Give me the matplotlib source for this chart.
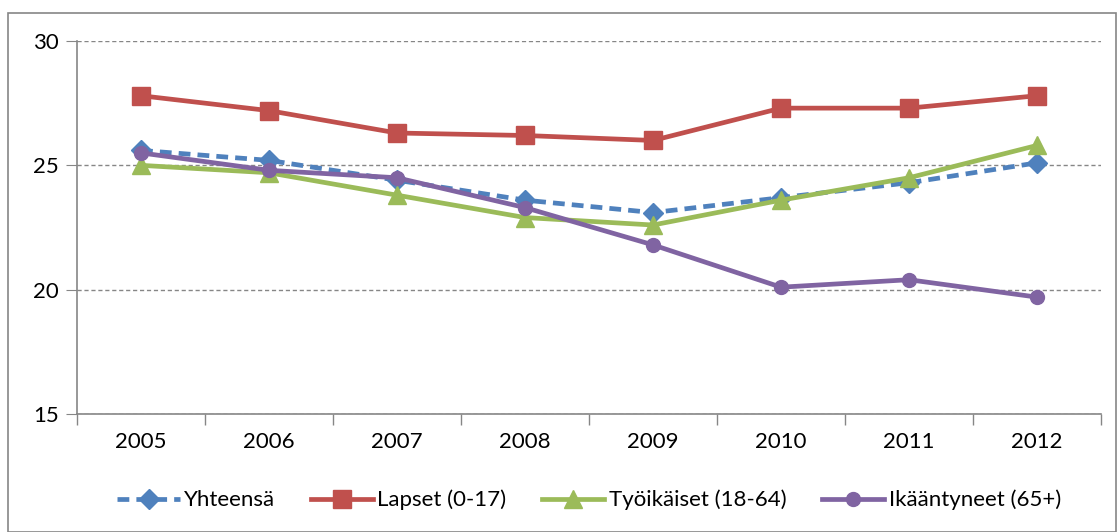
import numpy as np
import matplotlib
matplotlib.use("Agg")
import matplotlib.pyplot as plt
from matplotlib.patches import Rectangle

plt.rcParams['font.family'] = ['Lato', 'DejaVu Sans']

years = ['2005', '2006', '2007', '2008', '2009', '2010', '2011', '2012']
yhteensa = [25.6, 25.2, 24.4, 23.6, 23.1, 23.7, 24.3, 25.1]
lapset = [27.8, 27.2, 26.3, 26.2, 26.0, 27.3, 27.3, 27.8]
tyoikaiset = [25.0, 24.7, 23.8, 22.9, 22.6, 23.6, 24.5, 25.8]
ikaantyneet = [25.5, 24.8, 24.5, 23.3, 21.8, 20.1, 20.4, 19.7]

labels = ['Yhteensä', 'Lapset (0-17)', 'Työikäiset (18-64)', 'Ikääntyneet (65+)']
colors = ['#4F81BD', '#C0504D', '#9BBB59', '#8064A2']

fig = plt.figure(figsize=(11.18, 5.32), dpi=100)
ax = fig.add_axes([77/1118, 1 - 414/532, (1101-77)/1118, (414-41)/532])

x = np.arange(len(years))
ax.plot(x, yhteensa, color=colors[0], lw=3.4, ls=(0, (2.5, 1.5)), marker='D', ms=10, label=labels[0])
ax.plot(x, lapset, color=colors[1], lw=3.4, marker='s', ms=13, label=labels[1])
ax.plot(x, tyoikaiset, color=colors[2], lw=3.4, marker='^', ms=13, label=labels[2])
ax.plot(x, ikaantyneet, color=colors[3], lw=3.4, marker='o', ms=10, label=labels[3])

ax.set_xlim(-0.5, len(years) - 0.5)
ax.set_ylim(15, 30)
ax.set_yticks([15, 20, 25, 30])
ax.set_xticks(x)
ax.set_xticklabels(years)
ax.set_xticks(np.arange(-0.5, len(years)), minor=True)
ax.tick_params(axis='x', which='major', length=0, pad=13, labelsize=16)
ax.tick_params(axis='x', which='minor', length=8, color='#868686', width=1)
ax.tick_params(axis='y', length=8, color='#868686', labelsize=16, pad=5)
ax.yaxis.grid(True, color='#868686', ls=(0, (3, 2)), lw=1)
for s in ['top', 'right']:
    ax.spines[s].set_visible(False)
for s in ['left', 'bottom']:
    ax.spines[s].set_color('#868686')
    ax.spines[s].set_linewidth(1.2)

fig.legend(loc='center', bbox_to_anchor=(0.527, 1 - 500/532), ncol=4, frameon=False,
           fontsize=16, handlelength=2.8, columnspacing=1.6, handletextpad=0.2)

fig.patches.append(Rectangle((8/1118, 0), 1 - 10/1118, 1 - 13/532, transform=fig.transFigure,
                             fill=False, edgecolor='#868686', lw=1.2))

fig.savefig('out.png', dpi=100)
